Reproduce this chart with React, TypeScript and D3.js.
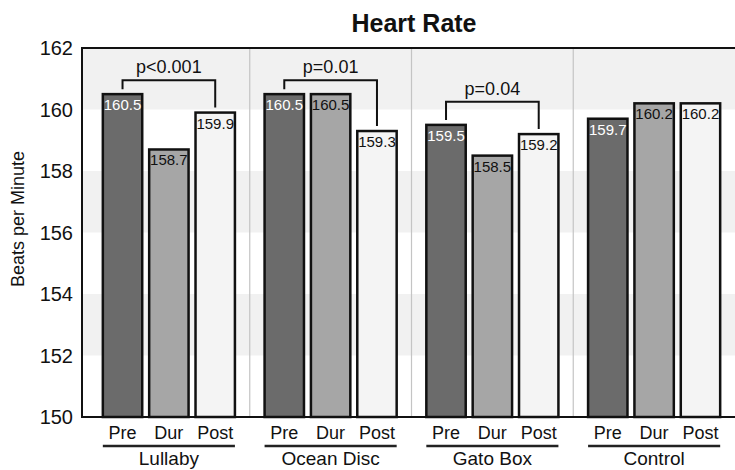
import * as React from 'react';
import { scaleBand, scaleLinear } from 'd3';

const groups = ['Lullaby', 'Ocean Disc', 'Gato Box', 'Control'];
const conditions = ['Pre', 'Dur', 'Post'];
const preValues = [160.5, 160.5, 159.5, 159.7];
const durValues = [158.7, 160.5, 158.5, 160.2];
const postValues = [159.9, 159.3, 159.2, 160.2];
const yTicks = [150, 152, 154, 156, 158, 160, 162];
// significance brackets: Pre vs Post
const pLabels = ['p<0.001', 'p=0.01', 'p=0.04', ''];
const pLevels = [160.95, 160.95, 160.25, 0];

const colors: { [key: string]: string } = {
    Pre: '#6b6b6b',
    Dur: '#a6a6a6',
    Post: '#f4f4f4',
};
const labelColors: { [key: string]: string } = {
    Pre: '#ffffff',
    Dur: '#111111',
    Post: '#111111',
};

const W = 735;
const H = 470;
const margin = { top: 48, bottom: 53, left: 82, right: 0 };
const font = 'Arial, "Liberation Sans", sans-serif';

const App = () => {
    const plotBottom = H - margin.bottom;
    const yScale = scaleLinear().domain([150, 162]).range([plotBottom, margin.top]);
    const xGroup = scaleBand().domain(groups).range([margin.left + 6, W - margin.right]).padding(0);
    const xCond = scaleBand().domain(conditions).range([0, xGroup.bandwidth()]).paddingInner(0.15).paddingOuter(0.32);
    const bw = xCond.bandwidth();

    const rows = groups.map((g, i) => ({
        group: g,
        values: { Pre: preValues[i], Dur: durValues[i], Post: postValues[i] } as { [key: string]: number },
        p: pLabels[i],
        level: pLevels[i],
    }));

    return (
        <svg width={W} height={H} style={{ position: 'absolute', left: 0, top: 0, background: '#fff' }} fontFamily={font}>
            <text x={414} y={32} textAnchor="middle" fontSize={25} fontWeight="bold" fill="#111">Heart Rate</text>

            {/* alternating background bands */}
            {yTicks.slice(0, -1).map((t, i) => (
                <rect key={'band' + t} x={margin.left} width={W - margin.left} y={yScale(t + 2)} height={yScale(t) - yScale(t + 2)}
                    fill={i % 2 === 1 ? '#f1f1f1' : '#ffffff'} />
            ))}

            {/* group separators */}
            {groups.slice(1).map((g) => (
                <line key={'sep' + g} x1={xGroup(g)!} x2={xGroup(g)!} y1={margin.top} y2={plotBottom} stroke="#c4c4c4" strokeWidth={1.2} />
            ))}

            {/* bars */}
            {rows.map((r) => (
                <g key={r.group} transform={`translate(${xGroup(r.group)}, 0)`}>
                    {conditions.map((c) => (
                        <g key={c}>
                            <rect x={xCond(c)!} width={bw} y={yScale(r.values[c])} height={plotBottom - yScale(r.values[c])}
                                fill={colors[c]} stroke="#111" strokeWidth={2.5} />
                            <text x={xCond(c)! + bw / 2} y={yScale(r.values[c]) + 16} textAnchor="middle" fontSize={15}
                                fill={labelColors[c]}>{r.values[c].toFixed(1)}</text>
                        </g>
                    ))}
                    {r.p && (
                        <g>
                            <path fill="none" stroke="#111" strokeWidth={2}
                                d={`M${xCond('Pre')! + bw / 2},${yScale(r.values.Pre) - 5}V${yScale(r.level)}H${xCond('Post')! + bw / 2}V${yScale(r.values.Post) - 5}`} />
                            <text x={(xCond('Pre')! + xCond('Post')! + bw) / 2} y={yScale(r.level) - 7} textAnchor="middle" fontSize={18} fill="#111">{r.p}</text>
                        </g>
                    )}
                    {conditions.map((c) => (
                        <text key={'lab' + c} x={xCond(c)! + bw / 2} y={plotBottom + 22} textAnchor="middle" fontSize={18} fill="#111">{c}</text>
                    ))}
                    <line x1={xCond('Pre')!} x2={xCond('Post')! + bw} y1={plotBottom + 29} y2={plotBottom + 29} stroke="#222" strokeWidth={2.5} />
                    <text x={xGroup.bandwidth() / 2} y={plotBottom + 48} textAnchor="middle" fontSize={19} fill="#111">{r.group}</text>
                </g>
            ))}

            {/* frame: top line, left axis, bottom axis */}
            <line x1={margin.left} x2={W} y1={margin.top} y2={margin.top} stroke="#111" strokeWidth={2} />
            <line x1={margin.left} x2={W} y1={plotBottom} y2={plotBottom} stroke="#111" strokeWidth={2} />
            <line x1={margin.left} x2={margin.left} y1={margin.top - 1} y2={plotBottom + 1} stroke="#111" strokeWidth={2} />

            {yTicks.map((t) => (
                <text key={'tick' + t} x={margin.left - 9} y={yScale(t)} dy="0.35em" textAnchor="end" fontSize={20} fill="#111">{t}</text>
            ))}
            <text transform={`translate(24, 219) rotate(-90)`} textAnchor="middle" fontSize={18} fill="#111">Beats per Minute</text>
        </svg>
    );
};

export default App;
